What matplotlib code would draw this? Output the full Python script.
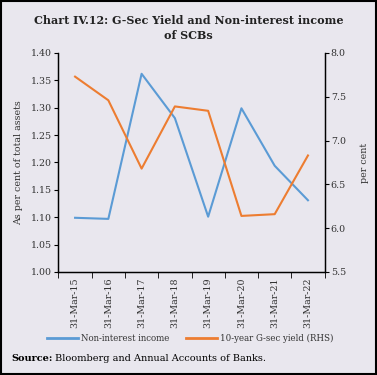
import matplotlib
matplotlib.use("Agg")
import matplotlib.pyplot as plt
from matplotlib.patches import Rectangle
from matplotlib.lines import Line2D

dates = ["31-Mar-15", "31-Mar-16", "31-Mar-17", "31-Mar-18",
         "31-Mar-19", "31-Mar-20", "31-Mar-21", "31-Mar-22"]
non_interest = [1.099, 1.097, 1.362, 1.281, 1.101, 1.299, 1.194, 1.131]
gsec_yield = [7.73, 7.46, 6.68, 7.39, 7.34, 6.14, 6.16, 6.83]

plt.rcParams['font.family'] = ['DejaVu Serif']
bg = '#E9E7EE'
blue = '#5B9BD5'
orange = '#ED7D31'
txt = '#333333'

fig = plt.figure(figsize=(3.77, 3.75), dpi=100, facecolor=bg)
ax = fig.add_axes([0.155, 0.2747, 0.706, 0.584])
ax.set_facecolor(bg)
ax2 = ax.twinx()

x = range(len(dates))
ax.plot(x, non_interest, color=blue, lw=1.5)
ax2.plot(x, gsec_yield, color=orange, lw=1.5)

ax.set_xlim(-0.5, len(dates) - 0.5)
ax.set_ylim(1.0, 1.4)
ax.set_yticks([1.0, 1.05, 1.1, 1.15, 1.2, 1.25, 1.3, 1.35, 1.4])
ax.set_yticklabels([f"{v:.2f}" for v in ax.get_yticks()])
ax2.set_ylim(5.5, 8.0)
ax2.set_yticks([5.5, 6.0, 6.5, 7.0, 7.5, 8.0])
ax2.set_yticklabels([f"{v:.1f}" for v in ax2.get_yticks()])

ax.set_xticks(list(x))
ax.set_xticklabels(dates, rotation=90)
ax.set_xticks([i + 0.5 for i in range(-1, len(dates))], minor=True)
ax.tick_params(axis='x', which='major', length=0, labelsize=6.8, pad=4,
               labelcolor=txt)
ax.tick_params(axis='x', which='minor', length=4, direction='out')
ax.tick_params(axis='y', labelsize=6.8, length=3, pad=1.5, labelcolor=txt)
ax2.tick_params(axis='y', labelsize=6.8, length=3, pad=1.5, labelcolor=txt)

for a in (ax, ax2):
    a.spines['top'].set_visible(False)
    for s in ('left', 'right', 'bottom'):
        a.spines[s].set_linewidth(0.9)

ax.set_ylabel("As per cent of total assets", fontsize=6.8, labelpad=6, color=txt)
ax2.set_ylabel("per cent", fontsize=6.8, labelpad=10, rotation=90, color=txt)

fig.text(0.5, 0.945, "Chart IV.12: G-Sec Yield and Non-interest income",
         ha='center', va='center', fontsize=8, fontweight='bold', color='#222222')
fig.text(0.5, 0.905, "of SCBs", ha='center', va='center',
         fontsize=8, fontweight='bold', color='#222222')

handles = [Line2D([], [], color=blue, lw=2), Line2D([], [], color=orange, lw=2)]
fig.legend(handles, ["Non-interest income", "10-year G-sec yield (RHS)"],
           loc='center', bbox_to_anchor=(0.505, 0.097), ncol=2, frameon=False,
           fontsize=6.2, handlelength=3.6, handletextpad=0.3, columnspacing=2.0,
           labelcolor=txt)

fig.text(0.03, 0.045, "Source:", fontsize=7, fontweight='bold', va='center')
fig.text(0.145, 0.045, "Bloomberg and Annual Accounts of Banks.",
         fontsize=7, va='center')

fig.patches.append(Rectangle((0.003, 0.003), 0.994, 0.994, transform=fig.transFigure,
                             fill=False, edgecolor='black', lw=1.5))

fig.savefig("out.png", dpi=100, facecolor=bg)
